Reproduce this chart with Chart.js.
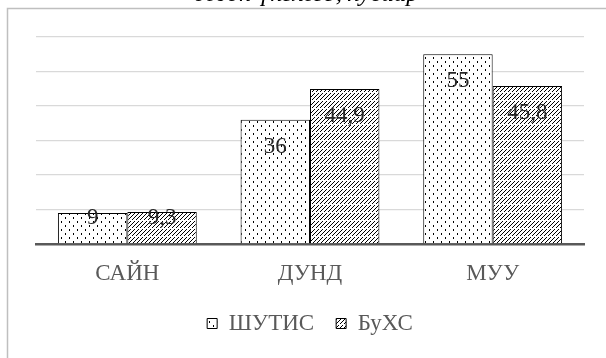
<!DOCTYPE html>
<html>
<head>
<meta charset="utf-8">
<script src="https://cdn.jsdelivr.net/npm/chart.js@4/dist/chart.umd.min.js"></script>
<style>
  html, body { margin: 0; padding: 0; background: #ffffff; }
  #wrap { width: 606px; height: 358px; position: relative; }
</style>
</head>
<body>
<div id="wrap"><canvas id="c" width="606" height="358"></canvas></div>
<script>
// Categories and series values
const categories = ['САЙН', 'ДУНД', 'МУУ'];
const seriesNames = ['ШУТИС', 'БуХС'];
const shutisValues = [9, 36, 55];
const buhsValues = [9.3, 44.9, 45.8];
const titleText = 'өгсөн үнэлгээ, хувиар';

const SERIF = '"Liberation Serif", "Times New Roman", serif';
const FS = 23;

// Dotted fill
function dotPattern() {
  const c = document.createElement('canvas');
  c.width = 8; c.height = 8;
  const g = c.getContext('2d');
  g.fillStyle = '#ffffff';
  g.fillRect(0, 0, 8, 8);
  g.fillStyle = '#000000';
  g.fillRect(1, 1, 1, 2);
  g.fillRect(5, 5, 1, 2);
  return g.createPattern(c, 'repeat');
}

// Dashed upward-diagonal hatch
function hatchPattern() {
  const c = document.createElement('canvas');
  c.width = 8; c.height = 8;
  const g = c.getContext('2d');
  g.fillStyle = '#ffffff';
  g.fillRect(0, 0, 8, 8);
  g.fillStyle = '#000000';
  for (let i = 0; i < 8; i++) {
    if (i !== 3) g.fillRect(i, 7 - i, 1, 1);
    if (i !== 7) g.fillRect(i, (11 - i) % 8, 1, 1);
  }
  return g.createPattern(c, 'repeat');
}

const fmt = v => String(v).replace('.', ',');

// Outer frame and the clipped title line
const framePlugin = {
  id: 'frame',
  beforeLayout(chart) {
    // fixed legend band height
    const lg = chart.legend;
    if (lg && !lg._fixedFit) {
      const fit = lg.fit;
      lg.fit = function () { fit.call(this); this.height = 58; };
      lg._fixedFit = true;
    }
  },
  beforeDraw(chart) {
    const ctx = chart.ctx;
    ctx.save();
    ctx.fillStyle = '#ffffff';
    ctx.fillRect(0, 0, chart.width, chart.height);
    ctx.strokeStyle = '#bfbfbf';
    ctx.lineWidth = 1.5;
    ctx.beginPath();
    ctx.moveTo(7.5, chart.height + 2);
    ctx.lineTo(7.5, 8.5);
    ctx.lineTo(chart.width + 2, 8.5);
    ctx.stroke();
    ctx.font = 'italic 25px ' + SERIF;
    ctx.fillStyle = '#000000';
    ctx.textAlign = 'center';
    ctx.textBaseline = 'alphabetic';
    ctx.fillText(titleText, 306, 1);
    ctx.restore();
  }
};

// Value labels placed inside the top of each bar
const valueLabels = {
  id: 'valueLabels',
  afterDatasetsDraw(chart) {
    const ctx = chart.ctx;
    ctx.save();
    ctx.font = FS + 'px ' + SERIF;
    ctx.fillStyle = '#262626';
    ctx.textAlign = 'center';
    ctx.textBaseline = 'middle';
    chart.data.datasets.forEach((ds, di) => {
      chart.getDatasetMeta(di).data.forEach((bar, i) => {
        const h = bar.base - bar.y;
        const off = Math.min(27, Math.max(5, (h - 20) / 2));
        ctx.fillText(fmt(ds.data[i]), bar.x, bar.y + off);
      });
    });
    ctx.restore();
  }
};

new Chart(document.getElementById('c'), {
  type: 'bar',
  data: {
    labels: categories,
    datasets: [
      {
        label: seriesNames[0],
        data: shutisValues,
        backgroundColor: dotPattern(),
        borderColor: '#000000',
        borderWidth: 1
      },
      {
        label: seriesNames[1],
        data: buhsValues,
        backgroundColor: hatchPattern(),
        borderColor: '#000000',
        borderWidth: 1
      }
    ]
  },
  options: {
    responsive: false,
    animation: false,
    devicePixelRatio: 1,
    layout: { padding: { left: 36, right: 22, top: 37, bottom: 10 } },
    datasets: { bar: { categoryPercentage: 0.76, barPercentage: 1.0 } },
    scales: {
      x: {
        afterFit(scale) { scale.height = 46; },
        grid: { display: false, drawTicks: false },
        border: { display: true, color: '#595959', width: 2.5 },
        ticks: { font: { family: SERIF, size: FS }, color: '#595959', padding: 16 }
      },
      y: {
        min: 0,
        max: 60,
        afterFit(scale) { scale.width = 0; },
        ticks: { display: false, stepSize: 10 },
        grid: { color: '#d9d9d9', lineWidth: 1.3, drawTicks: false },
        border: { display: false }
      }
    },
    plugins: {
      tooltip: { enabled: false },
      legend: {
        position: 'bottom',
        labels: {
          font: { family: SERIF, size: FS },
          color: '#595959',
          boxWidth: 10,
          boxHeight: 10,
          padding: 22
        }
      }
    }
  },
  plugins: [framePlugin, valueLabels]
});
</script>
</body>
</html>
